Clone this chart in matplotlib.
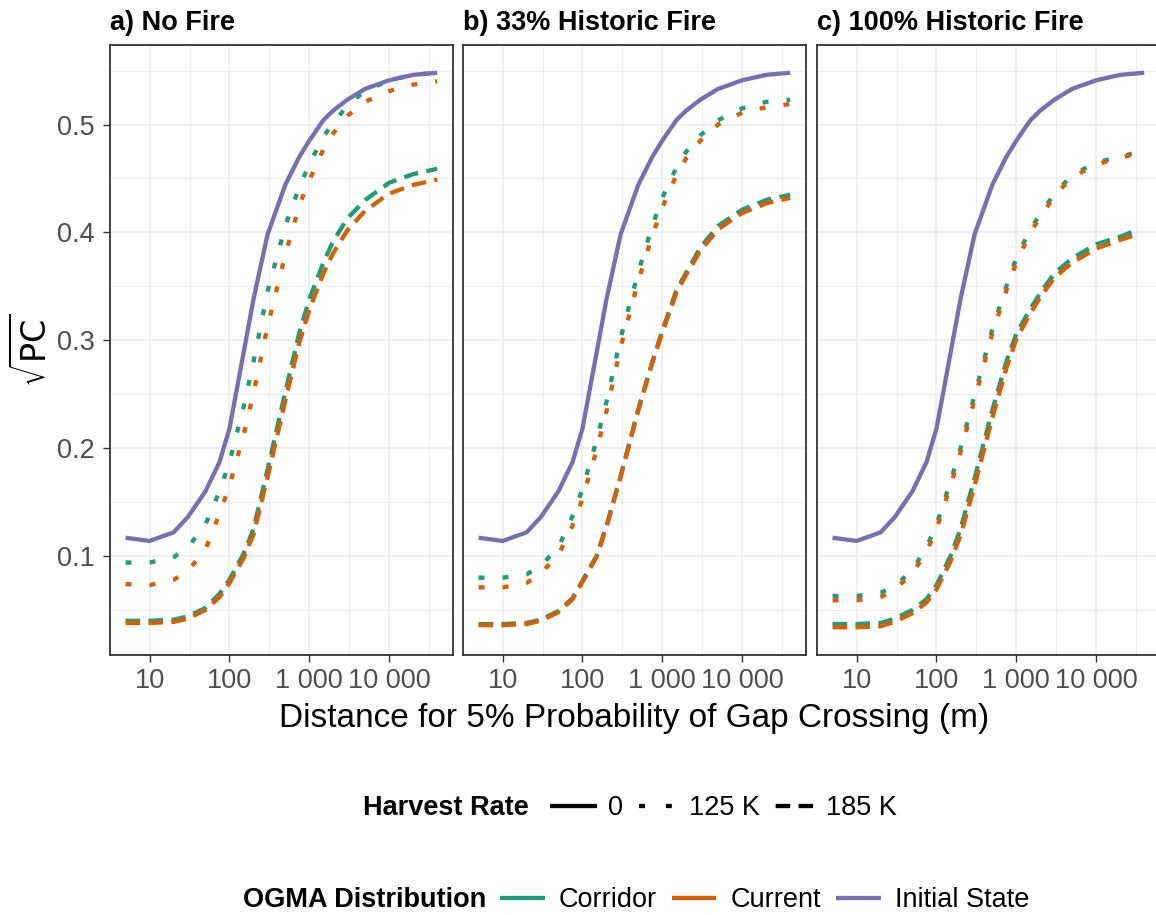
import matplotlib
matplotlib.use("Agg")
import matplotlib.pyplot as plt
from matplotlib.lines import Line2D
from matplotlib.ticker import FixedLocator, FixedFormatter, NullFormatter

plt.rcParams['font.family'] = ['Liberation Sans', 'DejaVu Sans']
plt.rcParams['lines.scale_dashes'] = False

# ---------------- data ----------------
DIST = [5, 10, 20, 30, 50, 75, 100, 150, 200, 300, 500, 750, 1000, 1500,
        2000, 3000, 5000, 10000, 20000, 40000]
DIST_C_125 = [5, 10, 20, 30, 50, 75, 100, 150, 200, 300, 500, 750, 1000, 1500,
              2000, 3000, 5000, 10000, 20000, 28000]
DIST_C_185 = [5, 10, 20, 30, 50, 75, 100, 150, 200, 300, 500, 750, 1000, 1500,
              2000, 3000, 5000, 10000, 20000, 32000]

INIT = [0.117, 0.114, 0.122, 0.136, 0.160, 0.187, 0.218, 0.288, 0.338, 0.398,
        0.444, 0.470, 0.485, 0.504, 0.513, 0.523, 0.533, 0.541, 0.546, 0.548]

A_COR_125 = [0.094, 0.094, 0.099, 0.108, 0.129, 0.160, 0.187, 0.238, 0.280, 0.345,
             0.406, 0.442, 0.463, 0.489, 0.501, 0.518, 0.531, 0.541, 0.546, 0.548]
A_CUR_125 = [0.074, 0.073, 0.078, 0.086, 0.106, 0.139, 0.165, 0.212, 0.251, 0.313,
             0.379, 0.425, 0.448, 0.477, 0.492, 0.508, 0.521, 0.531, 0.537, 0.540]
A_COR_185 = [0.040, 0.040, 0.041, 0.044, 0.052, 0.065, 0.078, 0.102, 0.125, 0.180,
             0.252, 0.307, 0.338, 0.372, 0.392, 0.413, 0.430, 0.446, 0.454, 0.459]
A_CUR_185 = [0.038, 0.038, 0.039, 0.042, 0.050, 0.062, 0.075, 0.098, 0.120, 0.173,
             0.244, 0.298, 0.328, 0.362, 0.381, 0.402, 0.420, 0.436, 0.444, 0.449]

B_COR_125 = [0.080, 0.080, 0.083, 0.091, 0.108, 0.137, 0.162, 0.207, 0.243, 0.302,
             0.363, 0.406, 0.432, 0.460, 0.475, 0.490, 0.504, 0.515, 0.521, 0.523]
B_CUR_125 = [0.071, 0.071, 0.075, 0.084, 0.101, 0.128, 0.153, 0.198, 0.234, 0.293,
             0.355, 0.397, 0.423, 0.453, 0.469, 0.485, 0.500, 0.511, 0.516, 0.519]
B_COR_185 = [0.037, 0.037, 0.038, 0.041, 0.049, 0.061, 0.077, 0.100, 0.128, 0.174,
             0.236, 0.280, 0.309, 0.346, 0.363, 0.386, 0.406, 0.421, 0.430, 0.435]
B_CUR_185 = [0.036, 0.036, 0.037, 0.040, 0.048, 0.060, 0.076, 0.099, 0.127, 0.173,
             0.235, 0.279, 0.307, 0.344, 0.361, 0.383, 0.403, 0.418, 0.427, 0.432]

C_COR_125 = [0.063, 0.063, 0.066, 0.072, 0.087, 0.108, 0.129, 0.169, 0.200, 0.249,
             0.310, 0.350, 0.376, 0.403, 0.417, 0.436, 0.453, 0.465, 0.470, 0.473]
C_CUR_125 = [0.059, 0.059, 0.062, 0.069, 0.084, 0.104, 0.125, 0.165, 0.196, 0.245,
             0.306, 0.346, 0.372, 0.400, 0.414, 0.434, 0.451, 0.463, 0.469, 0.472]
C_COR_185 = [0.037, 0.037, 0.038, 0.042, 0.050, 0.060, 0.073, 0.100, 0.125, 0.172,
             0.235, 0.280, 0.306, 0.329, 0.344, 0.362, 0.376, 0.389, 0.396, 0.402]
C_CUR_185 = [0.034, 0.034, 0.035, 0.039, 0.047, 0.057, 0.069, 0.095, 0.119, 0.165,
             0.228, 0.274, 0.301, 0.325, 0.340, 0.358, 0.372, 0.385, 0.393, 0.398]

PANEL_TITLES = ["a) No Fire", "b) 33% Historic Fire", "c) 100% Historic Fire"]
X_TICKS = [10, 100, 1000, 10000]
X_TICK_LABELS = ["10", "100", "1 000", "10 000"]
Y_TICKS = [0.1, 0.2, 0.3, 0.4, 0.5]
Y_TICK_LABELS = ["0.1", "0.2", "0.3", "0.4", "0.5"]
HARVEST_LABELS = ["0", "125 K", "185 K"]
OGMA_LABELS = ["Corridor", "Current", "Initial State"]

# ---------------- style ----------------
COL = {"Corridor": "#1B9E77", "Current": "#D95F02", "Initial State": "#7570B3"}
LW = 3.1
DOT = (0, (4.3, 13.0))
DASH = (0, (10.5, 6.0))
GRID = "#EBEBEB"
DARK = "#333333"
FS = 19.5

panels = [
    (DIST, INIT, DIST, A_COR_125, A_CUR_125, DIST, A_COR_185, A_CUR_185),
    (DIST, INIT, DIST, B_COR_125, B_CUR_125, DIST, B_COR_185, B_CUR_185),
    (DIST, INIT, DIST_C_125, C_COR_125, C_CUR_125, DIST_C_185, C_COR_185, C_CUR_185),
]

W, H = 1156, 915
fig = plt.figure(figsize=(W / 100, H / 100), dpi=100)

lefts = [110, 463, 817]
pw = 343
top, bottom = 45, 655

for i, (xi, yi, x125, cor125, cur125, x185, cor185, cur185) in enumerate(panels):
    ax = fig.add_axes([lefts[i] / W, 1 - bottom / H, pw / W, (bottom - top) / H])
    ax.set_xscale("log")
    ax.set_xlim(10 ** 0.504, 10 ** 4.80)
    ax.set_ylim(0.0083, 0.5737)

    ax.xaxis.set_major_locator(FixedLocator(X_TICKS))
    ax.xaxis.set_major_formatter(FixedFormatter(X_TICK_LABELS))
    ax.xaxis.set_minor_locator(FixedLocator([10 ** 0.5, 10 ** 1.5, 10 ** 2.5,
                                             10 ** 3.5, 10 ** 4.5]))
    ax.xaxis.set_minor_formatter(NullFormatter())
    ax.yaxis.set_major_locator(FixedLocator(Y_TICKS))
    ax.yaxis.set_minor_locator(FixedLocator([0.05, 0.15, 0.25, 0.35, 0.45, 0.55]))
    ax.grid(True, which="major", color=GRID, lw=1.1, zorder=0)
    ax.grid(True, which="minor", color=GRID, lw=0.6, zorder=0)
    ax.set_axisbelow(True)

    ax.tick_params(which="minor", length=0)
    ax.tick_params(which="major", length=5, width=1.0, color=DARK,
                   labelsize=FS, labelcolor="#4D4D4D")
    ax.tick_params(axis="x", pad=4)
    ax.tick_params(axis="y", pad=6)
    if i == 0:
        ax.yaxis.set_major_formatter(FixedFormatter(Y_TICK_LABELS))
    else:
        ax.tick_params(axis="y", left=False, labelleft=False)

    for s in ax.spines.values():
        s.set_color(DARK)
        s.set_linewidth(1.3)

    ax.plot(x185, cor185, color=COL["Corridor"], lw=LW, linestyle=DASH,
            dash_capstyle="butt")
    ax.plot(x185, cur185, color=COL["Current"], lw=LW, linestyle=DASH,
            dash_capstyle="butt")
    ax.plot(x125, cor125, color=COL["Corridor"], lw=LW, linestyle=DOT,
            dash_capstyle="butt")
    ax.plot(x125, cur125, color=COL["Current"], lw=LW, linestyle=DOT,
            dash_capstyle="butt")
    ax.plot(xi, yi, color=COL["Initial State"], lw=LW, solid_capstyle="butt")

    fig.text(lefts[i] / W, 1 - 30 / H, PANEL_TITLES[i], ha="left", va="baseline",
             fontsize=FS, fontweight="bold")

fig.text(634 / W, 1 - 718 / H, "Distance for 5% Probability of Gap Crossing (m)",
         ha="center", va="center", fontsize=24)
fig.text(33 / W, 1 - 350 / H, r"$\sqrt{\mathrm{PC}}$", rotation=90,
         ha="center", va="center", fontsize=24)

# ---------------- legends ----------------
fig.text(363 / W, 1 - 808 / H, "Harvest Rate", ha="left", va="center",
         fontsize=FS, fontweight="bold")
h1 = [Line2D([], [], color="black", lw=LW, solid_capstyle="butt"),
      Line2D([], [], color="black", lw=LW, linestyle=(13.5, (4.3, 15.0)),
             dash_capstyle="butt"),
      Line2D([], [], color="black", lw=LW, linestyle=(11.0, (10.5, 6.0)),
             dash_capstyle="butt")]
fig.legend(h1, HARVEST_LABELS, ncol=3, loc="center left",
           bbox_to_anchor=(550 / W, 1 - 808 / H), frameon=False, fontsize=FS,
           handlelength=1.74, handletextpad=0.4, columnspacing=0.3,
           borderpad=0, borderaxespad=0)

fig.text(243 / W, 1 - 900 / H, "OGMA Distribution", ha="left", va="center",
         fontsize=FS, fontweight="bold")
h2 = [Line2D([], [], color=COL[k], lw=LW, solid_capstyle="butt") for k in OGMA_LABELS]
fig.legend(h2, OGMA_LABELS, ncol=3, loc="center left",
           bbox_to_anchor=(500 / W, 1 - 900 / H), frameon=False, fontsize=FS,
           handlelength=1.65, handletextpad=0.52, columnspacing=0.55,
           borderpad=0, borderaxespad=0)

fig.savefig("out.png", dpi=100)
